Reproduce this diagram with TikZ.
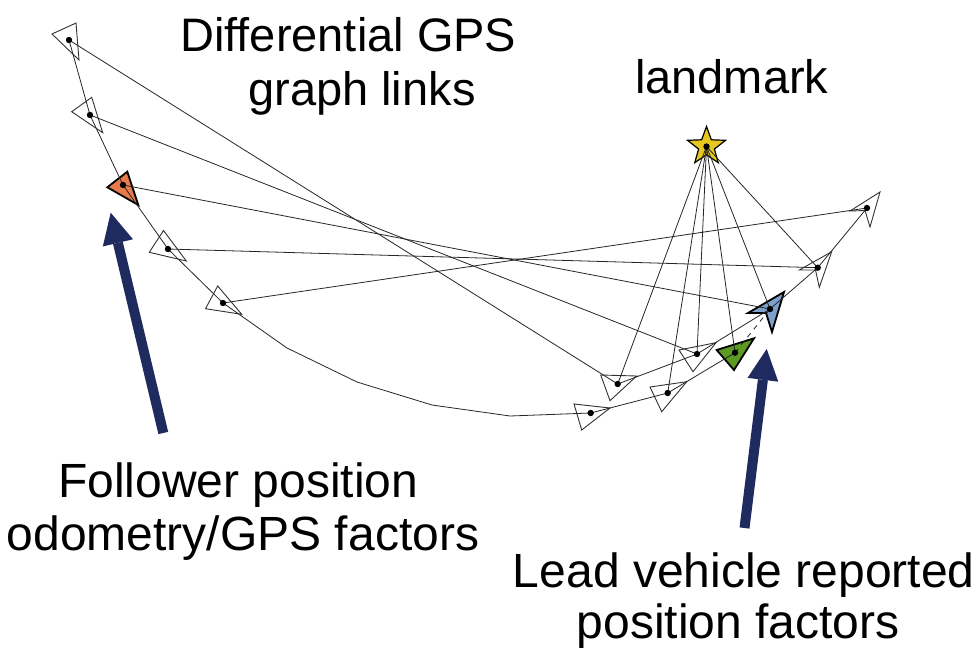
\documentclass[tikz,border=0pt]{standalone}
\usepackage{fontspec}
\setmainfont{Liberation Sans}
\usetikzlibrary{arrows.meta}
\definecolor{navy}{RGB}{31,43,94}
\definecolor{gpsorange}{RGB}{232,122,76}
\definecolor{curgreen}{RGB}{92,154,36}
\definecolor{leadblue}{RGB}{126,160,202}
\definecolor{lmyellow}{RGB}{230,199,30}
\begin{document}
\begin{tikzpicture}[x=1pt,y=-1pt,
  link/.style={draw=black!85, line width=0.8pt},
  pose/.style={draw=black!80, line width=0.9pt, fill=white, line join=miter},
  keypose/.style={draw=black, line width=1.8pt, line join=miter},
  dotmark/.style={fill=black},
  bigarrow/.style={draw=navy, line width=10pt, line cap=butt,
    -{Triangle[length=31pt, width=31pt, line width=0pt]}},
  lbl/.style={font=\fontsize{47}{56}\selectfont, inner sep=0pt, anchor=base},
  lblb/.style={font=\fontsize{48}{57}\selectfont, inner sep=0pt, anchor=base}]
\useasboundingbox (0,0) rectangle (979,656);

% follower trajectory poses
\coordinate (p1) at (69,40);
\coordinate (p2) at (90,115);
\coordinate (p3) at (123,185);
\coordinate (p4) at (168,249);
\coordinate (p5) at (223,303);
\coordinate (c1) at (287,348);
\coordinate (c2) at (357,382);
\coordinate (c3) at (432,405);
\coordinate (c4) at (510,416);
\coordinate (q1) at (590.7,413);
\coordinate (q2) at (667.7,393);
\coordinate (cur) at (735,352.7);
% lead vehicle poses
\coordinate (q3) at (617.7,384);
\coordinate (q4) at (697,354);
\coordinate (lead) at (770,309);
\coordinate (r1) at (817.7,267.7);
\coordinate (r2) at (867,208);
% landmark
\coordinate (lm) at (706.5,146.5);

% pose markers
\path[pose] (52,34) -- (76,23) -- (79,60) -- cycle;
\path[pose] (71.7,111.7) -- (91.7,97.3) -- (102.7,132.7) -- cycle;
\path[keypose, fill=gpsorange] (107.3,187.3) -- (127.3,171.7) -- (138.3,205) -- cycle;
\path[pose] (149.3,252.3) -- (163.5,230.5) -- (186.3,261) -- cycle;
\path[pose] (205.5,308.7) -- (217.7,286) -- (241.7,314.3) -- cycle;
\path[pose] (574,404) -- (610,408) -- (581.7,430) -- cycle;
\path[pose] (650,387) -- (686.7,381.7) -- (661.7,411.7) -- cycle;
\path[pose] (600.7,375) -- (636.7,376) -- (610,400.7) -- cycle;
\path[pose] (679,350) -- (716,342.7) -- (693,371.7) -- cycle;
\path[keypose, fill=curgreen] (716.7,350) -- (754,338.3) -- (734,370) -- cycle;
\path[keypose, fill=leadblue] (784,292) -- (748,313) -- (766,313) -- (772,332) -- cycle;
\path[pose] (831.7,251.7) -- (799.3,270) -- (815.5,270) -- (819.3,287.3) -- cycle;
\path[pose] (880,192) -- (850,211) -- (865,210.5) -- (870,227) -- cycle;

% landmark star
\path[draw=black, line width=1.2pt, fill=lmyellow, line join=miter]
  (lm) +(90:20pt) -- +(126:8.3pt) -- +(162:20pt) -- +(198:8.3pt)
  -- +(234:20pt) -- +(270:8.3pt) -- +(306:20pt) -- +(342:8.3pt)
  -- +(18:20pt) -- +(54:8.3pt) -- cycle;

% odometry chains
\draw[link] (p1) -- (p2) -- (p3) -- (p4) -- (p5) -- (c1) -- (c2) -- (c3)
  -- (c4) -- (q1) -- (q2) -- (cur);
\draw[link] (q3) -- (q4) -- (lead) -- (r1) -- (r2);
% differential GPS links
\draw[link] (p1) -- (q3);
\draw[link] (p2) -- (q4);
\draw[link] (p3) -- (lead);
\draw[link] (p4) -- (r1);
\draw[link] (p5) -- (r2);
% landmark observations
\foreach \t in {q3,q2,q4,cur,lead,r1}
  \draw[link] (lm) -- (\t);
% reported lead position factor
\draw[link, dash pattern=on 5pt off 5pt] (cur) -- (lead);

% pose centres
\foreach \t in {p1,p2,p3,p4,p5,q1,q2,q3,q4,cur,lead,r1,r2,lm}
  \fill[dotmark] (\t) circle (3.2);

% call-out arrows
\coordinate (fa0) at (163.3,433);
\coordinate (fa1) at (110.7,212.7);
\coordinate (la0) at (744.5,528);
\coordinate (la1) at (766.7,349);
\draw[bigarrow] (fa0) -- (fa1);
\draw[bigarrow] (la0) -- (la1);

% labels
\node[lbl] (dg1) at (348.3,51.7) {Differential GPS};
\node[lbl] (dg2) at (362,105) {graph links};
\node[lbl] (lmk) at (731.7,93) {landmark};
\node[lblb] (fo1) at (238.3,497) {Follower position};
\node[lblb] (fo2) at (243,550) {odometry/GPS factors};
\node[lblb] (ld1) at (743.8,587) {Lead vehicle reported};
\node[lblb] (ld2) at (738.3,638.5) {position factors};
\end{tikzpicture}
\end{document}
